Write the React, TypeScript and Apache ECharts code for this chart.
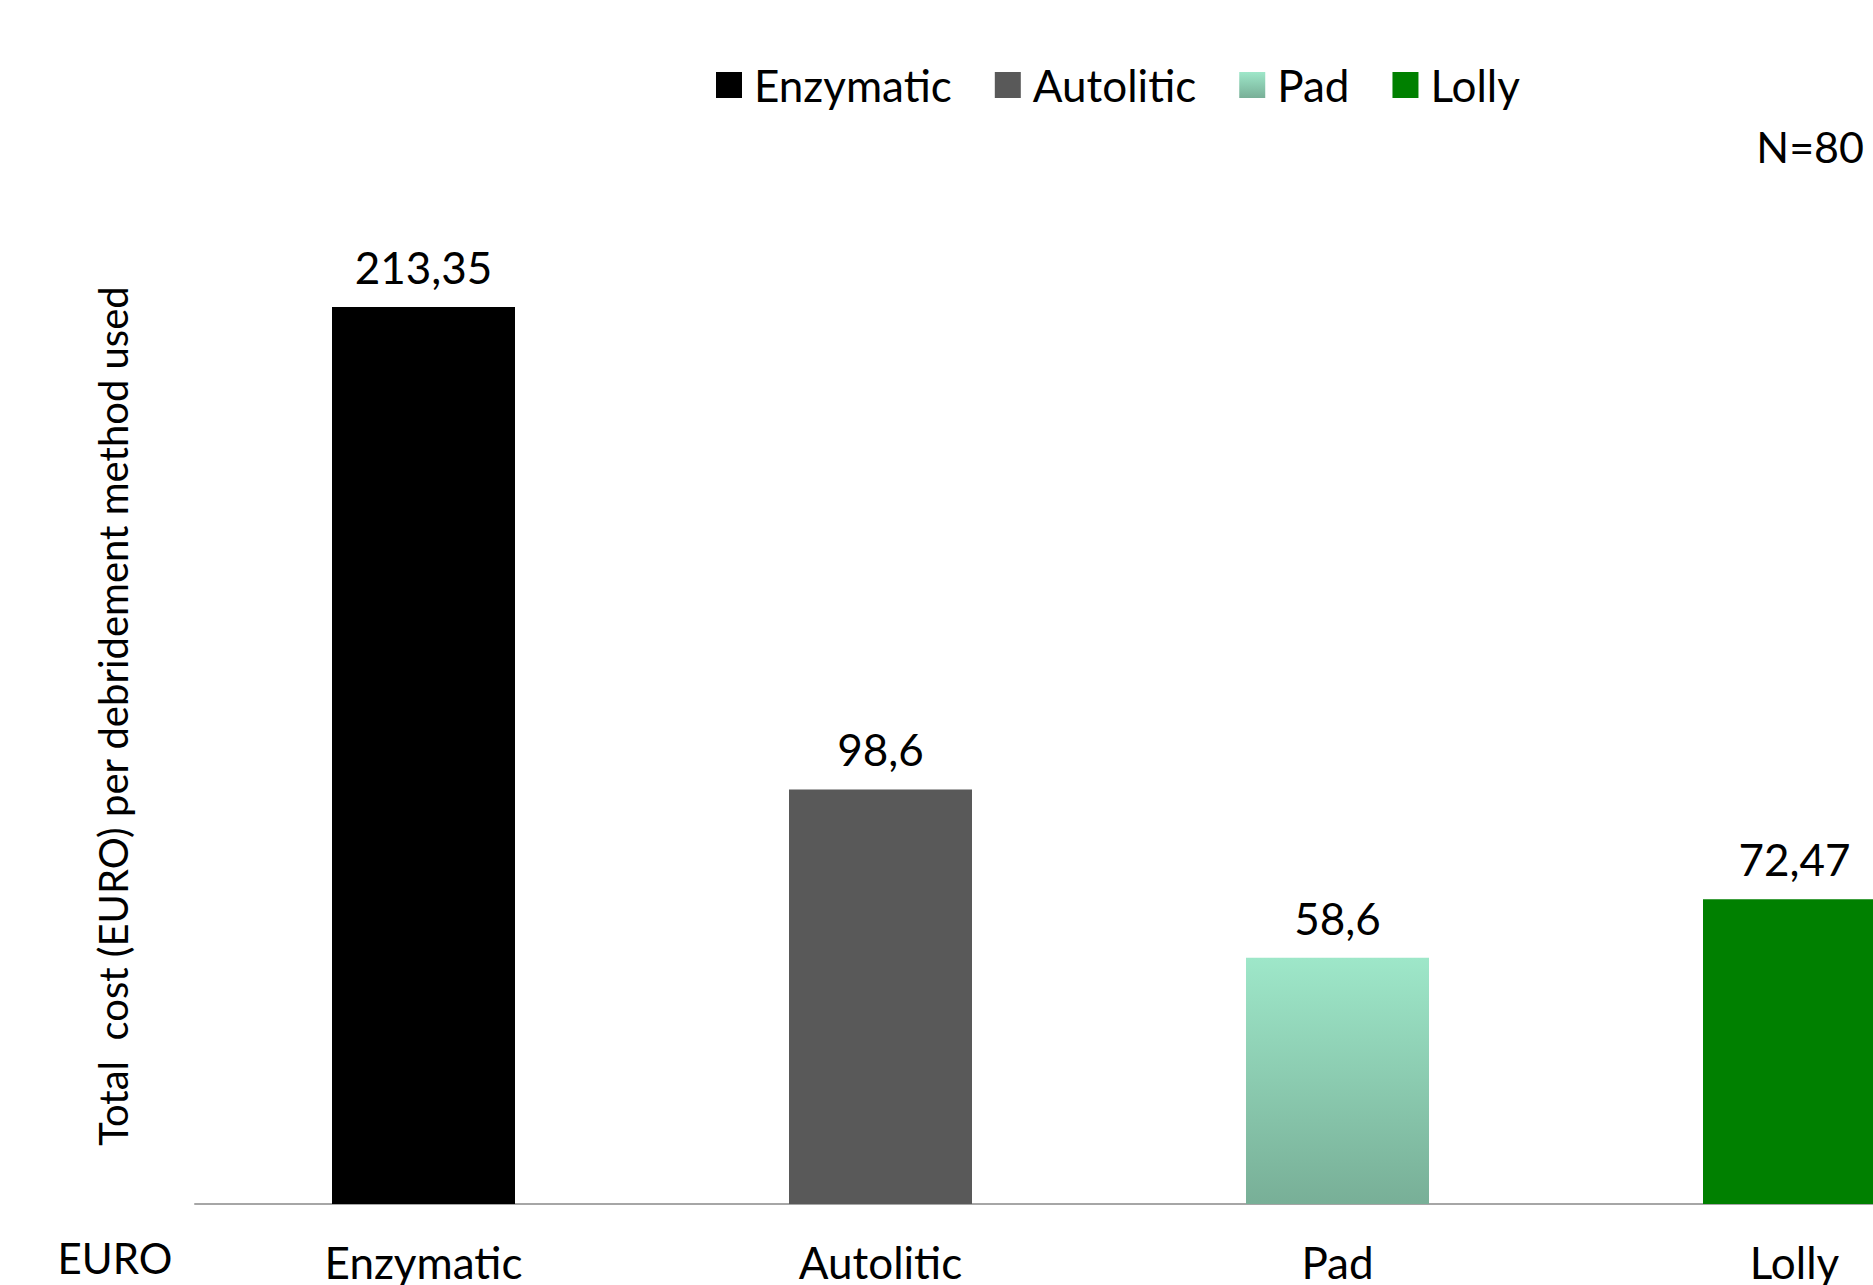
import React, { useEffect, useRef } from "react";
import * as echarts from "echarts";

const categories = ["Enzymatic", "Autolitic", "Pad", "Lolly"];
const values = [213.35, 98.6, 58.6, 72.47];
const labels = ["213,35", "98,6", "58,6", "72,47"];

const FONT = "Lato, 'Open Sans', sans-serif";

export default function App() {
  const ref = useRef<HTMLDivElement>(null);
  useEffect(() => {
    document.body.style.margin = "0";
    const chart = echarts.init(ref.current!, null, { renderer: "svg" });
    const colors: any[] = [
      "#000000",
      "#595959",
      new echarts.graphic.LinearGradient(0, 0, 0, 1, [
        { offset: 0, color: "#9ee7c9" },
        { offset: 1, color: "#78af97" },
      ]),
      "#008000",
    ];
    const series = categories.map((name, i) => ({
      name,
      type: "bar",
      barWidth: 183,
      barGap: "-100%",
      data: categories.map((_, j) => (j === i ? values[i] : "-")),
      itemStyle: { color: colors[i] },
      label: {
        show: true,
        position: "top",
        distance: 18,
        fontSize: 44,
        fontFamily: FONT,
        color: "#000",
        formatter: () => labels[i],
      },
    }));
    chart.setOption({
      animation: false,
      legend: {
        data: categories,
        left: 711,
        top: 58,
        itemWidth: 26,
        itemHeight: 26,
        itemGap: 43,
        icon: "rect",
        textStyle: { fontSize: 44, fontFamily: FONT, color: "#000", padding: [0, 0, 0, 7] },
      },
      grid: {
        left: 195,
        top: 153,
        width: 1828,
        bottom: 81,
        containLabel: false,
        outerBoundsMode: "none",
      },
      xAxis: {
        type: "category",
        data: categories,
        axisLine: { lineStyle: { color: "#a6a6a6", width: 2 } },
        axisTick: { show: false },
        axisLabel: {
          fontSize: 44,
          lineHeight: 44,
          fontFamily: FONT,
          color: "#000",
          margin: 36,
          interval: 0,
        },
      },
      yAxis: { type: "value", min: 0, max: 250, show: false },
      graphic: [
        {
          type: "text",
          x: 113,
          y: 716,
          rotation: Math.PI / 2,
          style: {
            text: "Total  cost (EURO) per debridement method used",
            fontSize: 40,
            fontFamily: FONT,
            fill: "#000",
            textAlign: "center",
            textVerticalAlign: "middle",
          },
        },
        {
          type: "text",
          x: 1864,
          y: 146,
          style: {
            text: "N=80",
            fontSize: 43,
            fontFamily: FONT,
            fill: "#000",
            textAlign: "right",
            textVerticalAlign: "middle",
          },
        },
        {
          type: "text",
          x: 115,
          y: 1258,
          style: {
            text: "EURO",
            fontSize: 42,
            fontFamily: FONT,
            fill: "#000",
            textAlign: "center",
            textVerticalAlign: "middle",
          },
        },
      ],
      series,
    });
    return () => chart.dispose();
  }, []);
  return <div ref={ref} style={{ width: 1873, height: 1285 }} />;
}
